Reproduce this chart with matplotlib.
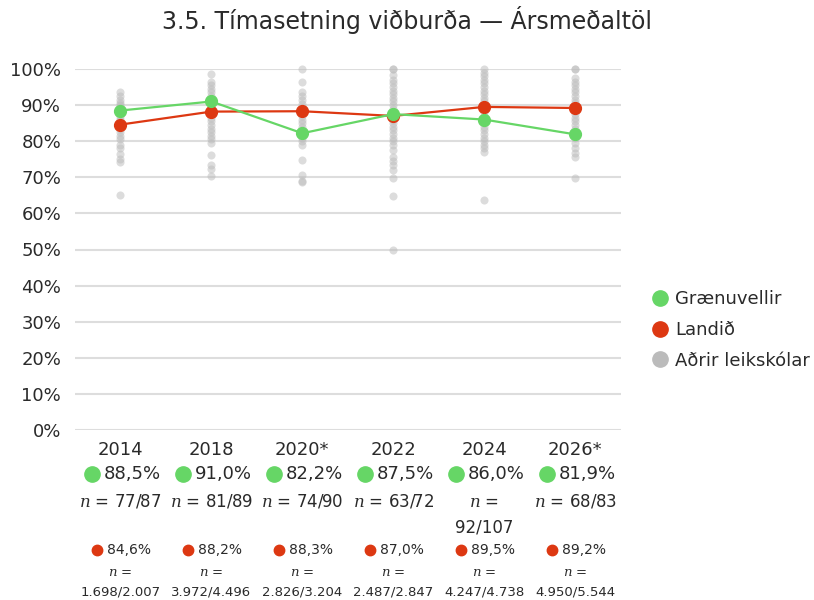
import matplotlib
matplotlib.use("Agg")
import matplotlib.pyplot as plt
from matplotlib.lines import Line2D
from matplotlib.transforms import blended_transform_factory, offset_copy

plt.rcParams.update({
    "font.family": ["DejaVu Sans"],
    "mathtext.fontset": "dejavuserif",
    "text.color": "#2a2a2a",
})

GREEN = "#66D666"
RED = "#DD3812"
GREY = "#BBBBBB"

years = ["2014", "2018", "2020*", "2022", "2024", "2026*"]
graenuvellir = [88.5, 91.0, 82.2, 87.5, 86.0, 81.9]
landid = [84.6, 88.2, 88.3, 87.0, 89.5, 89.2]
graen_n = ["77/87", "81/89", "74/90", "63/72", "92/107", "68/83"]
land_n = ["1.698/2.007", "3.972/4.496", "2.826/3.204", "2.487/2.847", "4.247/4.738", "4.950/5.544"]

# other preschools, one list per survey year
adrir_2014 = [93.7, 92.5, 91.5, 90.5, 90.0, 89.2, 88.0, 87.0, 86.2, 85.5, 84.5,
              83.5, 82.5, 81.5, 80.5, 79.0, 78.0, 76.5, 75.0, 74.3, 65.0]
adrir_2018 = [98.7, 96.5, 95.5, 94.5, 93.5, 92.5, 91.5, 90.5, 89.5, 88.5, 87.5,
              86.5, 85.5, 84.5, 83.5, 82.5, 81.5, 80.5, 79.4, 76.2, 73.4, 72.2, 70.4]
adrir_2020 = [100.0, 96.5, 93.7, 92.5, 91.5, 90.3, 89.2, 88.0, 87.0, 86.0, 85.0,
              84.0, 83.0, 82.0, 81.0, 80.0, 78.9, 74.8, 70.6, 69.0, 68.8]
adrir_2022 = [100.0, 100.0, 98.3, 97.0, 96.0, 95.0, 94.0, 93.0, 92.0, 91.0, 90.0,
              89.0, 88.0, 87.0, 86.0, 85.0, 84.0, 83.0, 82.0, 81.0, 80.0, 79.0,
              77.6, 75.7, 74.5, 73.5, 72.0, 69.7, 64.8, 50.0]
adrir_2024 = [100.0, 99.0, 98.0, 97.0, 96.0, 95.0, 94.0, 93.0, 92.0, 91.0, 90.0,
              89.0, 88.0, 87.0, 86.0, 85.0, 84.0, 83.0, 82.0, 81.0, 80.0, 79.0,
              78.0, 77.0, 63.6]
adrir_2026 = [100.0, 100.0, 97.4, 96.5, 95.5, 94.5, 93.5, 92.5, 91.5, 90.5, 89.5,
              88.5, 87.5, 86.5, 85.5, 84.5, 83.5, 82.5, 81.0, 79.5, 78.0, 76.8,
              75.7, 69.7]
adrir = [adrir_2014, adrir_2018, adrir_2020, adrir_2022, adrir_2024, adrir_2026]

yticks = list(range(0, 101, 10))


def pct(v):
    return f"{v:.1f}%".replace(".", ",")


fig = plt.figure(figsize=(8.14, 6.0), dpi=100)
ax = fig.add_axes([75 / 814, 1 - 430 / 600, 545.5 / 814, 361 / 600])

x = list(range(len(years)))

for i, vals in enumerate(adrir):
    ax.scatter([i] * len(vals), vals, s=34, color=GREY, alpha=0.5,
               linewidths=0, zorder=2, clip_on=False)

ax.plot(x, landid, color=RED, lw=1.6, marker="o", ms=8.5, zorder=4, clip_on=False)
ax.plot(x, graenuvellir, color=GREEN, lw=1.6, marker="o", ms=8.5, zorder=5, clip_on=False)

ax.set_xlim(-0.5, 5.5)
ax.set_ylim(0, 100)
ax.set_yticks(yticks)
ax.set_yticklabels([f"{t}%" for t in yticks])
ax.set_xticks(x)
ax.set_xticklabels(years)
ax.tick_params(axis="both", length=0, labelsize=13, labelcolor="#2a2a2a")
ax.tick_params(axis="y", pad=10)
ax.tick_params(axis="x", pad=8)
ax.grid(axis="y", color="#DDDDDD", lw=1.5)
ax.set_axisbelow(True)
for s in ax.spines.values():
    s.set_visible(False)

# per-year summary under the axis
tr = blended_transform_factory(ax.transData, fig.transFigure)
green_dot_tr = offset_copy(tr, fig=fig, x=-28, y=0, units="dots")
red_dot_tr = offset_copy(tr, fig=fig, x=-23, y=0, units="dots")
for i in x:
    ax.plot(i, 1 - 474 / 600, transform=green_dot_tr, marker="o", ms=11,
            color=GREEN, clip_on=False, ls="none")
    ax.annotate(pct(graenuvellir[i]), (i, 1 - 474 / 600), xycoords=tr,
                xytext=(12, 0), textcoords="offset pixels",
                ha="center", va="center", fontsize=13)
    # long counts wrap onto a second line
    if len(graen_n[i]) > 5:
        ax.text(i, 1 - 502 / 600, "$n$ =", transform=tr, ha="center", va="center", fontsize=12)
        ax.text(i, 1 - 528 / 600, graen_n[i], transform=tr, ha="center", va="center", fontsize=12)
    else:
        ax.text(i, 1 - 502 / 600, f"$n$ = {graen_n[i]}", transform=tr,
                ha="center", va="center", fontsize=12)

    ax.plot(i, 1 - 550 / 600, transform=red_dot_tr, marker="o", ms=7.5,
            color=RED, clip_on=False, ls="none")
    ax.annotate(pct(landid[i]), (i, 1 - 550 / 600), xycoords=tr,
                xytext=(9, 0), textcoords="offset pixels",
                ha="center", va="center", fontsize=10)
    ax.text(i, 1 - 572 / 600, "$n$ =", transform=tr, ha="center", va="center", fontsize=9.5)
    ax.text(i, 1 - 592 / 600, land_n[i], transform=tr, ha="center", va="center", fontsize=9.5)

fig.text(407 / 814, 1 - 20 / 600, "3.5. Tímasetning viðburða — Ársmeðaltöl",
         ha="center", va="center", fontsize=17)

handles = [
    Line2D([], [], ls="none", marker="o", ms=11, color=GREEN, label="Grænuvellir"),
    Line2D([], [], ls="none", marker="o", ms=11, color=RED, label="Landið"),
    Line2D([], [], ls="none", marker="o", ms=11, color=GREY, label="Aðrir leikskólar"),
]
fig.legend(handles=handles, loc="center left", bbox_to_anchor=(646 / 814, 1 - 330 / 600),
           frameon=False, fontsize=13, handlelength=0.8, handletextpad=0.4,
           labelspacing=0.7, borderaxespad=0)

fig.savefig("out.png", dpi=100)
